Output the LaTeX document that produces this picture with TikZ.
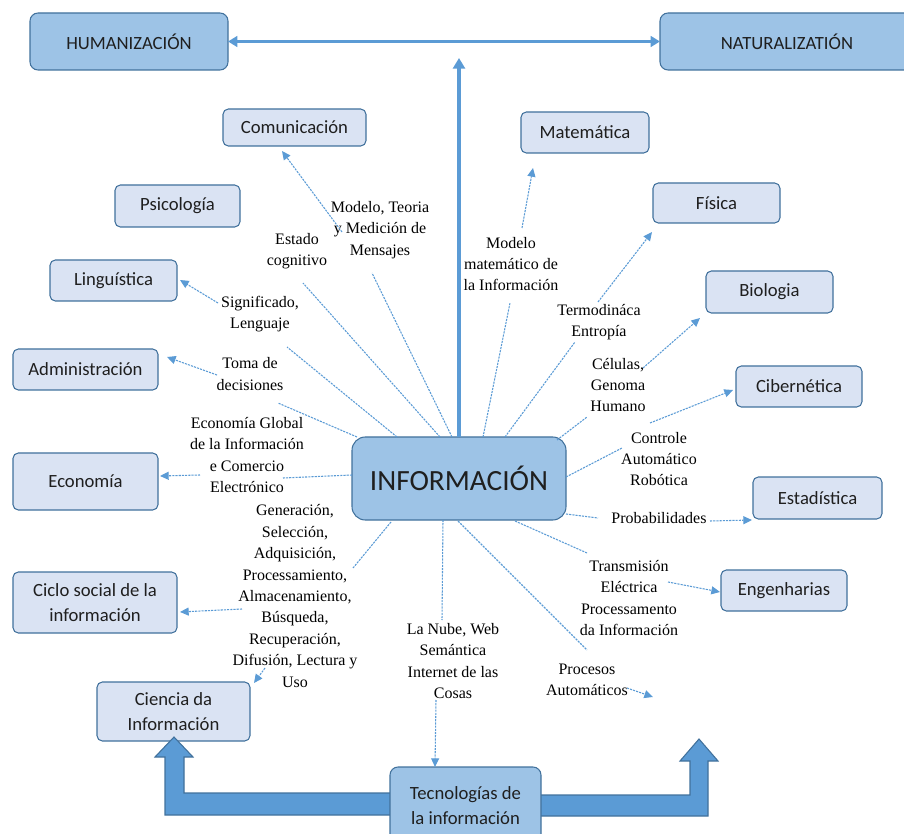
\documentclass[tikz,border=0pt]{standalone}
\usepackage{fontspec}
\setmainfont{Liberation Serif}
\newfontfamily\boxfont{Carlito}
\usetikzlibrary{arrows.meta,calc}

\definecolor{lightbox}{HTML}{DAE3F3}
\definecolor{midbox}{HTML}{9DC3E6}
\definecolor{edge}{HTML}{41719C}
\definecolor{link}{HTML}{5B9BD5}
\definecolor{bigarrow}{HTML}{5B9BD5}
\definecolor{boxtext}{HTML}{1F1F1F}

% box given by its corners in pixel units
\newcommand\discbox[7]{%
  \pgfmathsetmacro\bw{(#4-#2)*0.75}%
  \pgfmathsetmacro\bh{(#5-#3)*0.75}%
  \node[#6, minimum width=\bw pt, minimum height=\bh pt] (#1) at ({(#2+#4)/2},{(#3+#5)/2}) {#7};}

\tikzset{
  boxbase/.style={draw=edge, line width=0.8pt, inner sep=0pt, outer sep=0pt,
    align=center, text=boxtext, font=\boxfont\fontsize{14}{18.75}\selectfont},
  disc/.style={boxbase, fill=lightbox, rounded corners=4pt},
  field/.style={boxbase, fill=midbox, rounded corners=6pt},
  core/.style={boxbase, fill=midbox, rounded corners=10pt, font=\boxfont\fontsize{22}{26}\selectfont},
  lbl/.style={align=center, inner sep=0pt, text=black, font=\fontsize{12}{16.1}\selectfont},
  conn/.style={draw=link, line width=0.8pt, dash pattern=on 1.6pt off 0.8pt},
  tip/.style={-{Triangle[length=6.5pt,width=6pt]}},
  axis/.style={draw=link, line width=2.6pt},
  band/.style={fill=bigarrow, draw=edge, line width=0.8pt, line join=miter}
}

\begin{document}
\begin{tikzpicture}[x=0.75pt,y=-0.75pt]
\useasboundingbox (0,0) rectangle (904,834);

% --- fields and disciplines ---
\discbox{hum}{30}{13}{228}{70}{field}{HUMANIZACIÓN}
\discbox{nat}{660}{13}{914}{70}{field}{NATURALIZATIÓN}
\discbox{info}{352}{437}{566}{520}{core}{INFORMACIÓN}

\discbox{com}{223}{109}{366}{146}{disc}{Comunicación}
\discbox{psi}{115}{185}{240}{227}{disc}{Psicología}
\discbox{lin}{50}{260}{177}{301}{disc}{Linguística}
\discbox{adm}{13}{349}{158}{390}{disc}{Administración}
\discbox{eco}{13}{453}{158}{510}{disc}{Economía}
\discbox{cic}{13}{572}{177}{633}{disc}{Ciclo social de la\\información}
\discbox{cie}{97}{682}{250}{741}{disc}{Ciencia da\\Información}

\discbox{mat}{521}{112}{649}{153}{disc}{Matemática}
\discbox{fis}{653}{183}{780}{223}{disc}{Física}
\discbox{bio}{706}{271}{833}{313}{disc}{Biologia}
\discbox{cib}{736}{366}{862}{407}{disc}{Cibernética}
\discbox{est}{753}{477}{882}{519}{disc}{Estadística}
\discbox{eng}{721}{570}{847}{611}{disc}{Engenharias}

% --- thick axis arrows ---
\draw[axis, {Triangle[length=7pt,width=8pt]}-{Triangle[length=7pt,width=8pt]}] (hum.east) -- (nat.west);
\coordinate (axtop) at (459,58);
\draw[axis, line width=3.2pt, -{Triangle[length=8pt,width=9pt]}] (info.north) -- (axtop);

% --- broad arrows from the technologies box ---
\draw[band] (395,793) -- (184,793) -- (184,757) -- (193,757) -- (174,737)
  -- (155,757) -- (165,757) -- (165,815) -- (395,815) -- cycle;
\draw[band] (535,795) -- (690,795) -- (690,761) -- (680,761) -- (699,739)
  -- (718,761) -- (708,761) -- (708,816) -- (535,816) -- cycle;
\discbox{tec}{390}{767}{541}{845}{field}{Tecnologías de\\la información}

% --- relation labels ---
\node[lbl] (tcom) at (380,230) {Modelo, Teoria\\y Medición de\\Mensajes};
\node[lbl] (test) at (297,251) {Estado\\cognitivo};
\node[lbl] (tsig) at (260,314) {Significado,\\Lenguaje};
\node[lbl] (ttom) at (250,374) {Toma de\\decisiones};
\node[lbl] (teco) at (247,455) {Economía Global\\de la Información\\e Comercio\\Electrónico};
\node[lbl] (tgen) at (295,596) {Generación,\\Selección,\\Adquisición,\\Processamiento,\\Almacenamiento,\\Búsqueda,\\Recuperación,\\Difusión, Lectura y\\Uso};
\node[lbl] (tmat) at (511,264) {Modelo\\matemático de\\la Información};
\node[lbl] (tter) at (599,322) {Termodináca\\Entropía};
\node[lbl] (tcel) at (618,385) {Células,\\Genoma\\Humano};
\node[lbl] (tcon) at (659,459) {Controle\\Automático\\Robótica};
\node[lbl] (tpro) at (659,518) {Probabilidades};
\node[lbl] (ttra) at (629,598) {Transmisión\\Eléctrica\\Processamento\\da Información};
\node[lbl] (tnub) at (453,661) {La Nube, Web\\Semántica\\Internet de las\\Cosas};
\node[lbl] (tpra) at (587,680) {Procesos\\Automáticos};

% --- connector end points ---
\coordinate (comA) at (342,232);  \coordinate (comT) at (282,151);
\coordinate (comB) at (372,273);  \coordinate (comI) at (452,437);
\coordinate (estB) at (303,283);  \coordinate (estI) at (440,437);
\coordinate (sigB) at (287,347);  \coordinate (sigI) at (397,437);
\coordinate (sigA) at (218,303);  \coordinate (sigT) at (180,280);
\coordinate (tomB) at (278,403);  \coordinate (tomI) at (357,437);
\coordinate (tomA) at (217,375);  \coordinate (tomT) at (167,357);
\coordinate (ecoB) at (283,478);  \coordinate (ecoI) at (352,475);
\coordinate (ecoA) at (200,475);  \coordinate (ecoT) at (160,476);
\coordinate (genB) at (353,568);  \coordinate (genI) at (391,522);
\coordinate (genA) at (242,609);  \coordinate (genT) at (180,612);
\coordinate (genC) at (265,668);  \coordinate (genU) at (254,683);
\coordinate (nubB) at (442,620);  \coordinate (nubI) at (443,520);
\coordinate (nubA) at (436,700);  \coordinate (nubT) at (435,767);
\coordinate (praB) at (587,650);  \coordinate (praI) at (458,521);
\coordinate (praA) at (627,688);  \coordinate (praT) at (653,697);
\coordinate (traB) at (587,553);  \coordinate (traI) at (515,521);
\coordinate (traA) at (668,582);  \coordinate (traT) at (720,592);
\coordinate (proB) at (598,518);  \coordinate (proI) at (566,514);
\coordinate (proA) at (710,521);  \coordinate (proT) at (752,520);
\coordinate (conB) at (622,448);  \coordinate (conI) at (566,477);
\coordinate (conA) at (650,423);  \coordinate (conT) at (733,390);
\coordinate (celB) at (587,417);  \coordinate (celI) at (557,440);
\coordinate (celA) at (643,368);  \coordinate (celT) at (700,318);
\coordinate (terB) at (575,342);  \coordinate (terI) at (505,437);
\coordinate (terA) at (598,302);  \coordinate (terT) at (652,232);
\coordinate (matB) at (510,303);  \coordinate (matI) at (483,437);
\coordinate (matA) at (522,228);  \coordinate (matT) at (533,168);

% --- connectors ---
\draw[conn] (comI) -- (comB);  \draw[conn,tip] (comA) -- (comT);
\draw[conn] (estI) -- (estB);
\draw[conn] (sigI) -- (sigB);  \draw[conn,tip] (sigA) -- (sigT);
\draw[conn] (tomI) -- (tomB);  \draw[conn,tip] (tomA) -- (tomT);
\draw[conn] (ecoI) -- (ecoB);  \draw[conn,tip] (ecoA) -- (ecoT);
\draw[conn] (genI) -- (genB);  \draw[conn,tip] (genA) -- (genT);
\draw[conn,tip] (genC) -- (genU);
\draw[conn] (nubI) -- (nubB);  \draw[conn,tip] (nubA) -- (nubT);
\draw[conn] (praI) -- (praB);  \draw[conn,tip] (praA) -- (praT);
\draw[conn] (traI) -- (traB);  \draw[conn,tip] (traA) -- (traT);
\draw[conn] (proI) -- (proB);  \draw[conn,tip] (proA) -- (proT);
\draw[conn] (conI) -- (conB);  \draw[conn,tip] (conA) -- (conT);
\draw[conn] (celI) -- (celB);  \draw[conn,tip] (celA) -- (celT);
\draw[conn] (terI) -- (terB);  \draw[conn,tip] (terA) -- (terT);
\draw[conn] (matI) -- (matB);  \draw[conn,tip] (matA) -- (matT);
\end{tikzpicture}
\end{document}
